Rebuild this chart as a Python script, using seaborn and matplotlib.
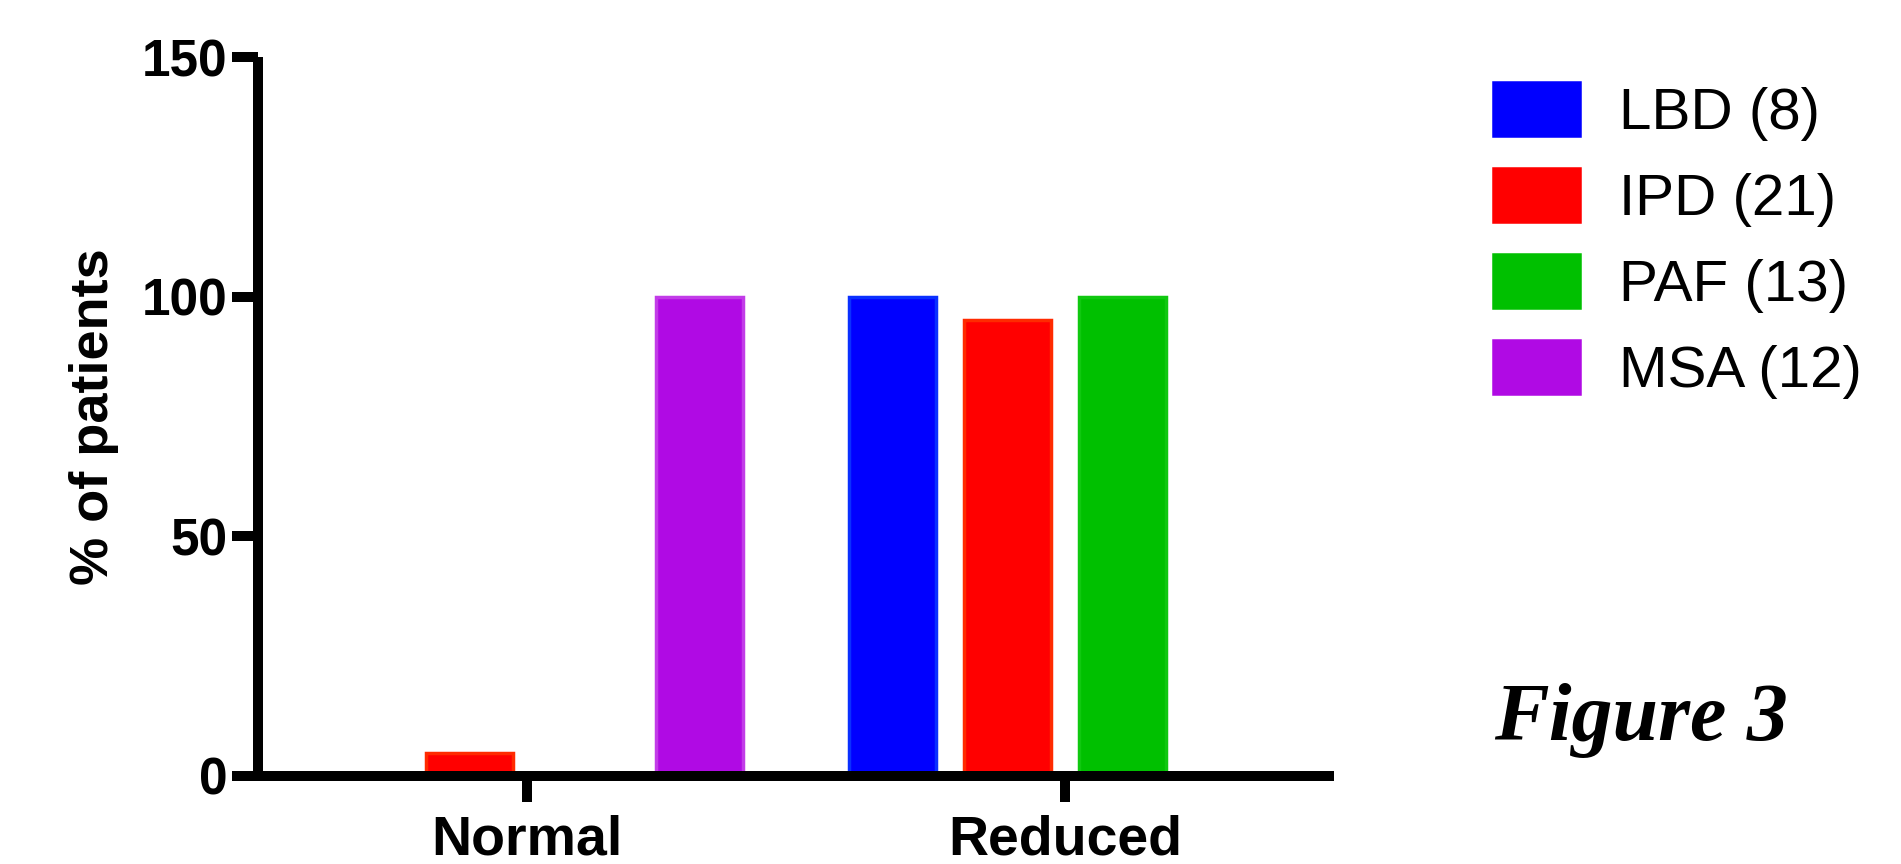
import matplotlib
matplotlib.use("Agg")
import matplotlib.pyplot as plt
import seaborn as sns
import pandas as pd

# --- data ---
groups = ["Normal", "Reduced"]
series = ["LBD (8)", "IPD (21)", "PAF (13)", "MSA (12)"]
lbd = [0, 100]
ipd = [4.76, 95.24]
paf = [0, 100]
msa = [100, 0]
y_ticks = [0, 50, 100, 150]

fill_colors = ["#0000FF", "#FF0000", "#00C000", "#B00AE4"]
edge_colors = ["#0A30FF", "#FF2A00", "#10C810", "#C23CE8"]

rows = []
for name, vals in zip(series, [lbd, ipd, paf, msa]):
    for g, v in zip(groups, vals):
        rows.append({"group": g, "series": name, "pct": v})
df = pd.DataFrame(rows)

sns.set_style("white")
plt.rcParams.update({
    "font.family": ["Liberation Sans", "DejaVu Sans"],
    "text.color": "black",
    "axes.labelcolor": "black",
    "xtick.color": "black",
    "ytick.color": "black",
})

fig = plt.figure(figsize=(19.01, 8.64), dpi=100)
ax = fig.add_axes([0.1357, 0.1019, 0.566, 0.832])

sns.barplot(data=df, x="group", y="pct", hue="series", order=groups,
            hue_order=series, palette=fill_colors, width=0.855, gap=0.25,
            linewidth=2.5, saturation=1, errorbar=None, legend=True, ax=ax)

# lighter rim around each bar, as in the original
for cont, ec in zip(ax.containers, edge_colors):
    for bar in cont:
        bar.set_edgecolor(ec)

ax.set_xlim(-0.5, 1.5)
ax.set_ylim(0, 150)
ax.set_yticks(y_ticks)
ax.set_xlabel("")
ax.set_ylabel("% of patients", fontsize=39, fontweight="bold")
ax.yaxis.set_label_coords(-0.129, 0.5)

sns.despine(ax=ax)
for side in ["left", "bottom"]:
    ax.spines[side].set_linewidth(7.2)
    ax.spines[side].set_color("black")
    ax.spines[side].set_zorder(5)
    ax.spines[side].set_capstyle("butt")

ax.tick_params(axis="both", direction="out", length=19, width=7.2,
               color="black", bottom=True, left=True)
ax.tick_params(axis="y", pad=3, labelsize=37)
ax.tick_params(axis="x", pad=9, labelsize=40)
for lab in ax.get_xticklabels() + ax.get_yticklabels():
    lab.set_fontweight("bold")

# legend at the right
handles, labels = ax.get_legend_handles_labels()
ax.legend(handles, labels, loc="upper left", bbox_to_anchor=(0.784, 0.9086),
          bbox_transform=fig.transFigure, frameon=False, fontsize=42,
          handlelength=1.58, handleheight=1.2, handletextpad=0.62,
          labelspacing=0.42, borderpad=0, borderaxespad=0)

fig.text(0.786, 0.1435, "Figure 3", fontsize=59, fontweight="bold",
         fontstyle="italic", family=["Liberation Serif", "DejaVu Serif"])

fig.savefig("out.png", dpi=100)
